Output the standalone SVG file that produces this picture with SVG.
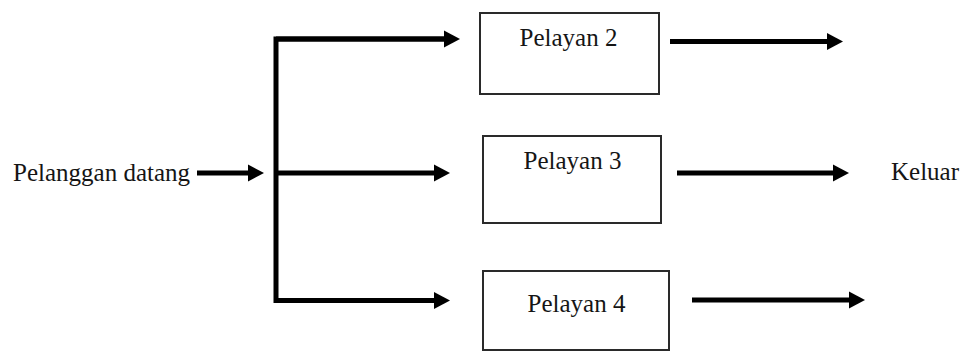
<svg xmlns="http://www.w3.org/2000/svg" width="963" height="352" viewBox="0 0 963 352">
  <style>
    .lbl { font-family: 'Liberation Serif', 'Times New Roman', serif; font-size: 25px; fill: #151515; }
    .box { fill: #ffffff; stroke: #2a2a2a; stroke-width: 2; }
    .flow { fill: none; stroke: #000000; stroke-width: 5; }
  </style>
  <defs>
    <!-- solid triangular head; the line stops at the head's base -->
    <marker id="head" markerUnits="userSpaceOnUse" markerWidth="17" markerHeight="18" refX="0" refY="9" orient="auto" overflow="visible">
      <polygon points="0,0.5 16,9 0,17.5" fill="#000000"/>
    </marker>
  </defs>
  <rect width="963" height="352" fill="#ffffff"/>

  <!-- connectors -->
  <g id="connectors">
    <line class="flow" x1="197" y1="173" x2="248" y2="173" marker-end="url(#head)"/>
    <polyline class="flow" points="444,39 276,39 276,300.5 434,300.5" marker-end="url(#head)"/>
    <line class="flow" x1="276" y1="39" x2="444" y2="39" marker-end="url(#head)"/>
    <line class="flow" x1="276" y1="173" x2="434" y2="173" marker-end="url(#head)"/>
    <line class="flow" x1="670" y1="41.5" x2="827" y2="41.5" marker-end="url(#head)"/>
    <line class="flow" x1="677" y1="173" x2="833" y2="173" marker-end="url(#head)"/>
    <line class="flow" x1="692" y1="300" x2="849" y2="300" marker-end="url(#head)"/>
  </g>

  <g id="source">
    <text class="lbl" x="13" y="181">Pelanggan datang</text>
  </g>

  <g id="pelayan2">
    <rect class="box" x="480" y="13" width="179" height="81"/>
    <text class="lbl" x="568.5" y="46" text-anchor="middle">Pelayan 2</text>
  </g>

  <g id="pelayan3">
    <rect class="box" x="483" y="136" width="178" height="87"/>
    <text class="lbl" x="572.5" y="168.5" text-anchor="middle">Pelayan 3</text>
  </g>

  <g id="pelayan4">
    <rect class="box" x="483" y="271" width="186" height="79"/>
    <text class="lbl" x="576.5" y="312" text-anchor="middle">Pelayan 4</text>
  </g>

  <g id="sink">
    <text class="lbl" x="891" y="179.5">Keluar</text>
  </g>
</svg>
